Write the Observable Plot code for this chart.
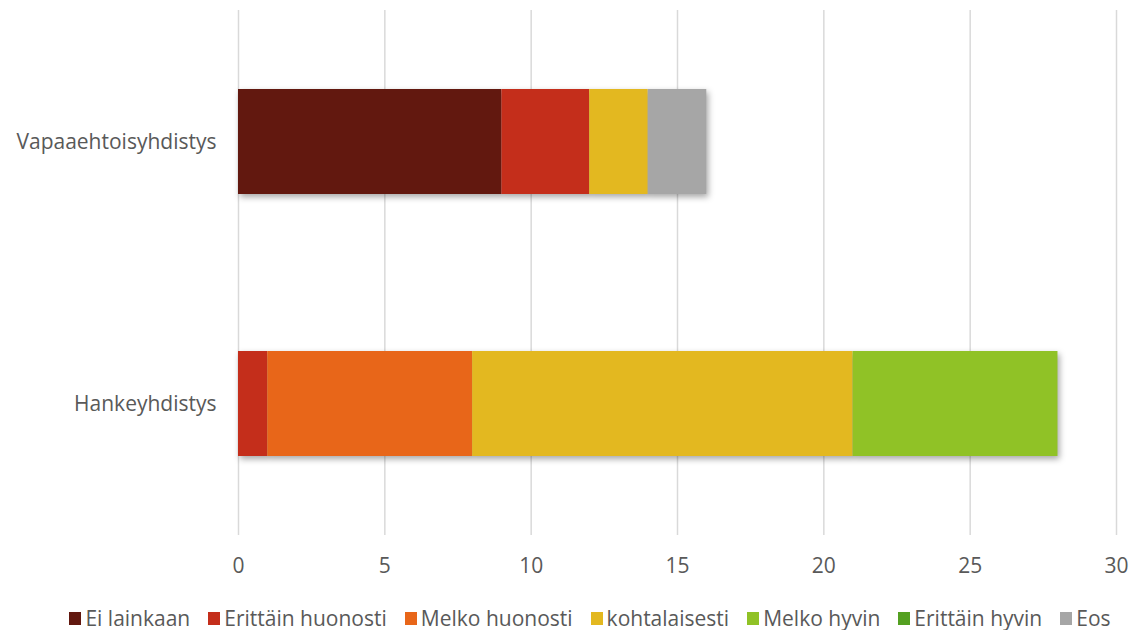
<!DOCTYPE html>
<html>
<head>
<meta charset="utf-8">
<script src="https://cdn.jsdelivr.net/npm/d3@7"></script>
<script src="https://cdn.jsdelivr.net/npm/@observablehq/plot@0.6"></script>
<style>
  html, body { margin: 0; padding: 0; background: #fff; }
  #chart { width: 1132px; font-family: "Open Sans", sans-serif; }
  #chart svg { display: block; }
  g[aria-label="bar"] { filter: drop-shadow(2px 3px 3px rgba(0,0,0,0.35)); }
  .legend { display: flex; justify-content: center; align-items: center; gap: 18px;
            font-size: 21px; line-height: 28px; color: #595959; margin-top: 12px; padding-left: 48px; }
  .legend span.item { display: inline-flex; align-items: center; white-space: nowrap; }
  .legend i { display: inline-block; width: 12px; height: 13px; margin-right: 4px; }
</style>
</head>
<body>
<div id="chart"></div>
<script>
// Respondent groups (rows) and answer options (stack order, left to right)
const categories = ["Vapaaehtoisyhdistys", "Hankeyhdistys"];
const answers = ["Ei lainkaan", "Erittäin huonosti", "Melko huonosti", "kohtalaisesti", "Melko hyvin", "Erittäin hyvin", "Eos"];
const answerColors = ["#62180F", "#C42E1B", "#E86619", "#E3B820", "#90C226", "#54A021", "#A6A6A6"];

// Counts per answer option, in the order of categories
const eiLainkaan       = [9, 0];
const erittainHuonosti = [3, 1];
const melkoHuonosti    = [0, 7];
const kohtalaisesti    = [2, 13];
const melkoHyvin       = [0, 7];
const erittainHyvin    = [0, 0];
const eos              = [2, 0];

const xTicks = [0, 5, 10, 15, 20, 25, 30];

const series = [eiLainkaan, erittainHuonosti, melkoHuonosti, kohtalaisesti, melkoHyvin, erittainHyvin, eos];
const rows = [];
answers.forEach((a, i) => {
  categories.forEach((c, j) => {
    rows.push({category: c, answer: a, value: series[i][j]});
  });
});

const plot = Plot.plot({
  width: 1132,
  height: 592,
  marginLeft: 238,
  marginRight: 16,
  marginTop: 10,
  marginBottom: 57,
  style: {fontFamily: "'Open Sans', sans-serif", fontSize: "21px", color: "#595959", background: "#fff"},
  x: {domain: [0, 30], ticks: xTicks, label: null, tickSize: 0, tickPadding: 23},
  y: {domain: categories, label: null, paddingInner: 0.6, paddingOuter: 0.3, tickSize: 0, tickPadding: 22},
  color: {domain: answers, range: answerColors},
  marks: [
    Plot.gridX(xTicks, {stroke: "#d9d9d9", strokeOpacity: 1, strokeWidth: 1.5}),
    Plot.barX(rows.filter(d => d.value > 0), Plot.stackX({
      x: "value", y: "category", fill: "answer", order: answers
    }))
  ]
});
document.getElementById("chart").appendChild(plot);

// Legend row below the chart
const legend = document.createElement("div");
legend.className = "legend";
answers.forEach((a, i) => {
  const item = document.createElement("span");
  item.className = "item";
  const sw = document.createElement("i");
  sw.style.background = answerColors[i];
  item.appendChild(sw);
  item.appendChild(document.createTextNode(a));
  legend.appendChild(item);
});
document.getElementById("chart").appendChild(legend);
</script>
</body>
</html>
